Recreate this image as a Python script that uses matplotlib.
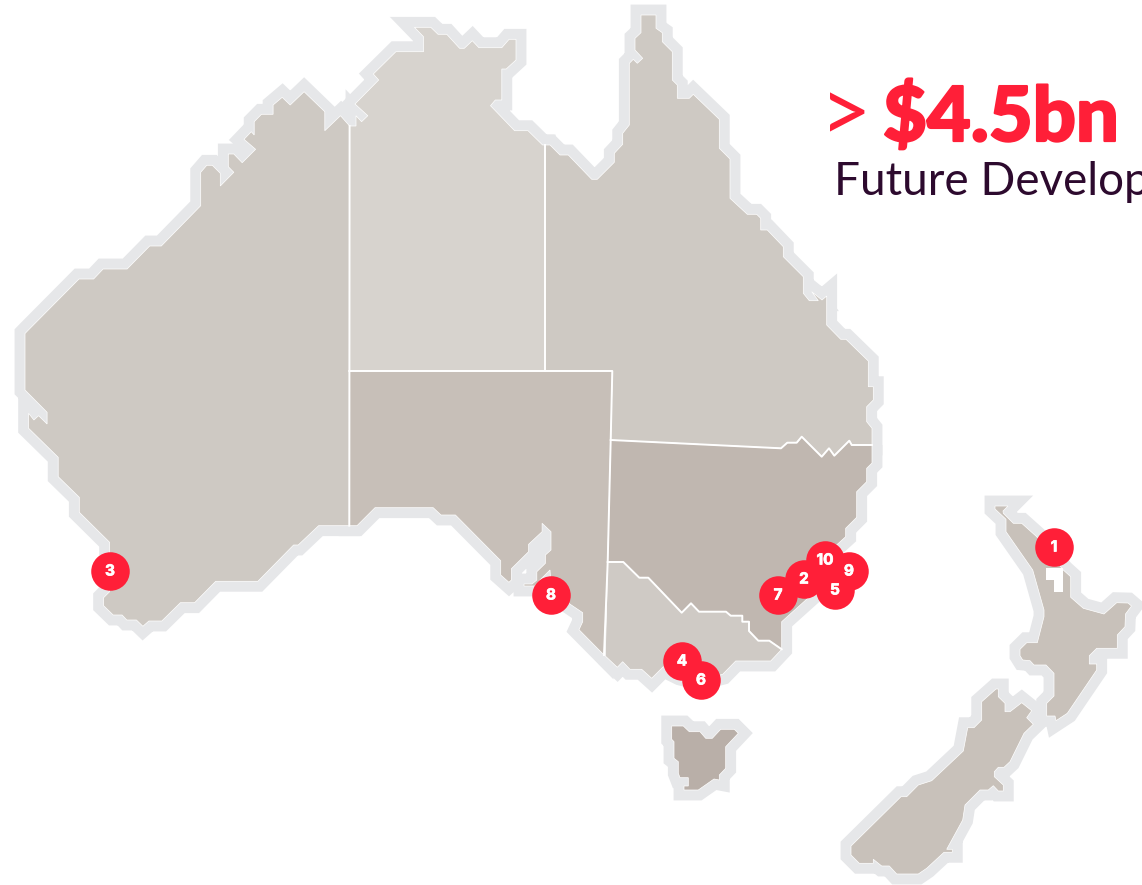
import matplotlib
matplotlib.use('Agg')
import matplotlib.pyplot as plt
import matplotlib.patheffects as pe
from matplotlib.patches import Polygon

# outlines, in picture pixels
wa = [(349.6,126),(340.5,115.7),(324.8,130.7),(324.8,111.7),(304.1,91.7),(290.2,105),(282.2,97.3),(273.1,105),
      (273.1,114.3),(261.5,114.3),(254.2,121.7),(254.2,135),(251.3,131.7),(244,139.3),(255.6,149.3),(242.2,162.7),
      (233.8,154),(228.3,154),(228.3,166.7),(233.8,172.3),(220.3,186),(220.3,173.3),(212.3,165.3),(206.8,165.3),
      (200.7,172.3),(200.7,205.7),(161.3,246),(149.7,246),(127.1,269),(103.1,269),(93.6,279),(79,279),(28.4,330),
      (25,333.5),(25,390),(47.1,412.3),(47.1,424),(38.6,415.7),(33.9,420),(28.6,413.3),(28.6,428.3),(58.2,457.3),
      (58.2,476.7),(79.3,497.3),(79.3,512.3),(109.6,542.3),(109.6,591.7),(103.6,597.7),(103.6,605.7),(113.2,615),
      (122.1,615),(126.8,620),(136.4,620),(142.9,626.3),(148.9,621),(161.8,621),(180.4,602.7),(194.6,602.7),
      (215.7,581.3),(257.9,581.3),(293.6,545),(298.2,545),(318.6,525.7),(349.3,525.7)]
nt = [(349.6,126),(356,126),(356,115.7),(361.6,121.7),(367.8,115.7),(355,104),(378.7,80),(373.3,74),(395.9,51.7),
      (423.5,51.7),(423.5,36.7),(414.4,27.3),(430.8,27.3),(438,34.3),(446.8,34.3),(459.6,48.3),(464.3,48.3),
      (472.3,40.7),(478.9,47.7),(501.8,47.7),(509.1,39.3),(516,39.3),(516,60),(506.2,69),(501.8,69),(501.8,100),
      (495.3,100),(490.5,105.7),(514.6,130.7),(528,130.7),(542.6,145),(545.2,145),(545.2,371),(349.3,371)]
qld = [(545,145),(550,145),(560,155),(568.3,155),(591.7,179.3),(597.3,179.3),(614.3,162.3),(614.3,153.3),(622.7,144.3),
       (622.7,133.3),(629.3,125),(629.3,63.3),(633.3,59.3),(637.3,63.3),(642.7,58.3),(635,50),(635,38.3),(641,32.7),
       (641,15),(656,15),(656,28.3),(662.3,32.7),(662.3,41.7),(672.3,51.7),(672.3,80),(677.3,85),(677.3,98.3),
       (689.3,98.3),(693.3,94.3),(719.3,119.3),(719.3,148.3),(730,159),(730,198.3),(747.3,214.3),(756.7,214.3),
       (760.7,218.3),(760.7,230),(767.3,230),(783.3,246.7),(783.3,256.7),(803.3,276.7),(803.3,293.3),(809.3,300.7),
       (818.3,300.7),(811.7,291.7),(822,300),(826.7,296),(826.7,325),(840.7,339.3),(846,339.3),(868.3,361),
       (868.3,386.7),(873.3,386.7),(873.3,400),(866.7,406.7),(866.7,421.7),(872,428.3),(872,445),(851.7,445),
       (849.3,440.7),(834.3,455.7),(829,448.3),(821.7,456.7),(801.7,436.7),(796.7,442.7),(787.3,442.7),(781,448.3),
       (610.7,440),(612.3,371),(545,371)]
sa = [(349.3,371),(612.3,371),(610.7,440),(607.7,562),(604,655),(579,629.7),(582.7,621.7),(582.7,612.7),(568.3,603),
      (551,585),(550,570),(540,580),(535,586),(524,586),(524,584),(532,584),(536.8,580),(536.8,571.7),(545.4,563.3),
      (545.4,555),(551,550),(551,531.7),(542.1,523.3),(542.1,531.7),(528.6,544.3),(528.6,551.7),(511.4,568.7),
      (511.4,580),(508.9,582.3),(500.7,575),(500.7,560.7),(455.4,515),(441,515),(433.2,507.7),(375,507.7),(357,525.7),
      (349.3,525.7)]
nsw = [(610.7,440),(781,448.3),(787.3,442.7),(796.7,442.7),(801.7,436.7),(821.7,456.7),(829,448.3),(834.3,455.7),
       (849.3,440.7),(851.7,445),(872,445),(872,463),(866.7,468.3),(866.7,481.7),(856.7,491.7),(856.7,517.3),
       (845.7,528.3),(845.7,536.7),(833.3,548),(813.3,593.3),(781.7,621.7),(781.7,649.3),(769.3,640.7),(758.3,640.7),
       (749,631),(749,621.7),(742.3,621.7),(742.3,615.7),(730.7,615.7),(726,611.7),(699,611.7),(691,603.3),
       (681.7,612.7),(648.3,577.7),(639.3,577.7),(623.3,562),(607.7,562)]
vic = [(607.7,562),(623.3,562),(639.3,577.7),(648.3,577.7),(681.7,612.7),(691,603.3),(699,611.7),(726,611.7),
       (730.7,615.7),(742.3,615.7),(742.3,621.7),(749,621.7),(749,631),(758.3,640.7),(769.3,640.7),(781.7,649.3),
       (770.7,661),(735.7,661),(722.7,674.3),(700,680),(680,675),(663.3,666.7),(651.7,678.3),(641.7,669.3),(630,669.3),
       (622.7,661.7),(617.3,667.3),(605.3,656)]
tas = [(671.7,726),(683.3,726),(689.3,731.7),(700,731.7),(705.7,738.3),(712.3,738.3),(720.7,729.3),(734.3,729.3),
       (738.3,733.3),(725.7,746.7),(725.7,768.3),(719.3,775),(719.3,780),(714,779),(698.3,790),(684,790),
       (684,786),(688.3,786),(688.3,777.7),(680,777.7),(678.3,773.3),(678.3,761.7),(674,758.3),(674,741.7),(671.7,739.3)]
nz_north = [(995,506),(1008,506),(1003,511),(1003.3,513.3),(1013.3,523.3),(1021.7,523.3),(1036.7,536.7),(1063.3,570),(1070.7,576.7),
            (1070.7,597.3),(1083.3,608.3),(1104,614),(1116.7,602.7),(1128,603),(1131.5,606),(1125.5,614),(1125,626.7),(1117.3,635),
            (1117.3,648.3),(1096.7,648.3),(1089.3,655.7),(1089.3,664),(1096.7,664),(1096.7,670),(1067.3,713.3),(1056,720.7),
            (1055,716),(1046.7,716),(1046.7,703.3),(1054,696),(1054,673.3),(1046,665),(1034,665),(1030,660.7),(1022.7,660),
            (1020,655.7),(1020,649.3),(1026.7,642.7),(1037.3,642.7),(1044,616.7),(1044,610),(1032.7,570),(1006,531.7),(1006,519.3),(995,509)]
nz_south = [(998.3,689),(998.3,696.7),(1005,703.3),(1005,711.7),(1010,711.7),(1021.7,702.7),(1031.7,710.7),(1026.7,717.7),
            (1033.3,724.3),(1024,733.3),(1010,761.7),(1004,767.3),(998.3,767.3),(994.3,771.7),(994.3,776.7),(1003.3,785),
            (1003.3,791),(998.3,791),(993.3,785.7),(988.3,790),(980,790),(965,805),(962.7,820),(946.7,849.3),(952.3,849.3),
            (952.3,852.3),(944,852.3),(926.7,868.3),(918.3,874),(896.7,874),(889.3,866),(881.7,866),(873.3,859.3),(873.3,863.3),
            (859.3,863.3),(851,855),(851,846),(901,796.7),(906.7,796.7),(918.3,785),(931.7,780.7),(963.3,751),(967.7,727.7),
            (974,727.7),(981.7,720),(981.7,701.7),(996,689)]
nz_notch = [(1046,568),(1063,568),(1063,592),(1054,592),(1054,580),(1046,580)]

regions = [wa, nt, qld, sa, nsw, vic, tas, nz_north, nz_south]
region_colors = ['#cec9c3', '#d7d3ce', '#cec9c3', '#c7bfb8', '#c0b7b0', '#cfcac5', '#b9afa8', '#c8c1ba', '#c8c1ba']

# state lines, drawn heavier than the coast
borders = [[wa[0], wa[-1]], [nt[-3], nt[-2]], sa[:5], nsw[:11], vic[:16]]
se_coast = nsw[10:22] + vic[16:]

site_labels = ['1', '2', '3', '4', '5', '6', '7', '8', '9', '10']
site_x = [1054, 804, 110, 682, 835, 701, 778, 551, 849, 825]
site_y = [547, 579, 571, 661, 590, 680, 595, 595, 571, 560]

red = '#ff1f38'
halo = '#e6e7e9'

fig = plt.figure(figsize=(11.42, 8.85), dpi=100)
ax = fig.add_axes([0, 0, 1, 1])
ax.set_xlim(0, 1142)
ax.set_ylim(885, 0)
ax.axis('off')

# wide stroke first, then the fills sit on top of it
for pts in [wa, nt, qld, sa, tas, nz_north, nz_south]:
    ax.add_patch(Polygon(pts, closed=True, fc=halo, ec=halo, lw=15, joinstyle='miter', zorder=1))
ax.plot([p[0] for p in se_coast], [p[1] for p in se_coast], color=halo, lw=15,
        solid_joinstyle='miter', solid_capstyle='butt', zorder=1)
for pts, col in zip(regions, region_colors):
    ax.add_patch(Polygon(pts, closed=True, fc=col, ec='white', lw=0.5, joinstyle='miter', zorder=2))
for line in borders:
    ax.plot([p[0] for p in line], [p[1] for p in line], color='white', lw=1.4, zorder=3)
ax.add_patch(Polygon(nz_notch, closed=True, fc='white', ec='none', zorder=3))

ax.scatter(site_x, site_y, s=770, c=red, linewidths=0, zorder=4)
for x, y, lab in zip(site_x, site_y, site_labels):
    ax.text(x, y, lab, color='white', fontsize=11, fontweight='bold', family='Inter',
            ha='center', va='center', zorder=5,
            path_effects=[pe.withStroke(linewidth=0.5, foreground='white')])

ax.text(820.5, 142.5, '>', color=red, fontsize=64, family='Lato', ha='left', va='baseline')
ax.text(883, 141, '$4.5bn', color=red, fontsize=54.5, fontweight='black', family='Lato', ha='left', va='baseline',
        path_effects=[pe.withStroke(linewidth=1.6, foreground=red)])
ax.text(834, 195, 'Future Develop', color='#2d0a2e', fontsize=33, family='Lato', ha='left', va='baseline')

plt.savefig('out.png', dpi=100)
